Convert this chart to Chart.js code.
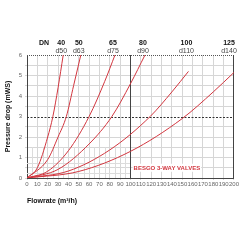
<!DOCTYPE html>
<html><head><meta charset="utf-8">
<script src="https://cdn.jsdelivr.net/npm/chart.js@4/dist/chart.umd.min.js"></script>
<style>html,body{margin:0;padding:0;background:#fff}#w{width:240px;height:240px}</style>
</head><body><div id="w"><canvas id="c" width="240" height="240"></canvas></div>
<script>
const dnLabels = ['40','50','65','80','100','125'];
const dLabels = ['d50','d63','d75','d90','d110','d140'];
const dn40 = [[0,0],[10,0.5],[20,2.0],[25,3.0],[30,4.4],[35,6.0]];
const dn50 = [[0,0],[20,0.9],[30,2.0],[38,3.0],[45,4.5],[52,6.0]];
const dn65 = [[0,0],[20,0.33],[40,1.33],[60,3.0],[75,4.7],[85,6.0]];
const dn80 = [[0,0],[30,0.42],[60,1.66],[82,3.0],[100,4.6],[114,6.0]];
const dn100 = [[0,0],[40,0.34],[80,1.37],[119,3.0],[140,4.2],[156,5.2]];
const dn125 = [[0,0],[50,0.32],[100,1.3],[150,2.9],[180,4.2],[200,5.15]];
const curves = [dn40, dn50, dn65, dn80, dn100, dn125];
const xTicksMax = 200, yTicksMax = 6;
const titleY = 'Pressure drop (mWS)';
const titleX = 'Flowrate (m³/h)';
const brand = 'BESGO 3-WAY VALVES';

const RED = '#d2363f';
const NARROW = '"Liberation Sans Narrow", "Liberation Sans", Arial, sans-serif';
const SANS = '"Liberation Sans", Arial, sans-serif';
const overlay = {
  id:'overlay',
  beforeDatasetsDraw(chart){
    const {ctx, chartArea:a, scales:{x,y}} = chart;
    ctx.save();
    ctx.strokeStyle = '#dcdcdc'; ctx.lineWidth = 1;
    for (let v=0.25; v<1; v+=0.25){ if (v===0.5) continue;
      const py = Math.round(y.getPixelForValue(v))+0.5;
      ctx.beginPath(); ctx.moveTo(a.left, py); ctx.lineTo(x.getPixelForValue(100), py); ctx.stroke(); }
    for (let v=5; v<100; v+=10){
      const px = Math.round(x.getPixelForValue(v))+0.5;
      ctx.beginPath(); ctx.moveTo(px, a.bottom); ctx.lineTo(px, y.getPixelForValue(1.5)); ctx.stroke(); }
    ctx.strokeStyle = '#333'; ctx.setLineDash([2,1.5]);
    let py = Math.round(y.getPixelForValue(3))+0.5;
    ctx.beginPath(); ctx.moveTo(a.left, py); ctx.lineTo(a.right, py); ctx.stroke();
    ctx.setLineDash([1,1]); ctx.strokeStyle='#555';
    py = Math.round(y.getPixelForValue(6))+0.5;
    ctx.beginPath(); ctx.moveTo(a.left, py); ctx.lineTo(a.right, py); ctx.stroke();
    ctx.setLineDash([]);
    ctx.strokeStyle='#444';
    let px = Math.round(x.getPixelForValue(100))+0.5;
    ctx.beginPath(); ctx.moveTo(px, a.top); ctx.lineTo(px, a.bottom); ctx.stroke();
    px = Math.round(x.getPixelForValue(200))-0.5;
    ctx.beginPath(); ctx.moveTo(px, a.top); ctx.lineTo(px, a.bottom); ctx.stroke();
    ctx.restore();
  },
  afterDraw(chart){
    const {ctx, chartArea:a, scales:{x,y}} = chart;
    ctx.save();
    ctx.fillStyle = '#111'; ctx.textAlign='center'; ctx.textBaseline='alphabetic';
    ctx.font = 'bold 7px ' + SANS;
    ctx.fillText('DN', 44, 45);
    curves.forEach((c,i)=>{
      const last = c[c.length-1];
      let px = Math.min(x.getPixelForValue(last[0]) - 2, a.right - 5);
      ctx.fillStyle='#111'; ctx.font = 'bold 7px ' + SANS;
      ctx.fillText(dnLabels[i], px, 45);
      ctx.fillStyle='#444'; ctx.font = '7px ' + SANS;
      ctx.fillText(dLabels[i], px, 53);
    });
    ctx.font = 'bold 6px ' + SANS;
    const bx = x.getPixelForValue(103), byv = y.getPixelForValue(0.5);
    const w = ctx.measureText(brand).width;
    ctx.fillStyle='#fff'; ctx.fillRect(bx-1, byv-4, w+2, 8);
    ctx.fillStyle = RED; ctx.textAlign='left'; ctx.textBaseline='middle';
    ctx.fillText(brand, bx, byv+0.5);
    ctx.restore();
  }
};

new Chart(document.getElementById('c'), {
  type:'line',
  data:{ datasets: curves.map((c,i)=>({
    label:'DN'+dnLabels[i],
    data:c.map(p=>({x:p[0], y:p[1]})),
    borderColor:RED, borderWidth:1, pointRadius:0, fill:false,
    cubicInterpolationMode:'monotone'
  }))},
  options:{
    responsive:false, animation:false, devicePixelRatio:1,
    layout:{padding:{top:55, right:6, left:0, bottom:35}},
    plugins:{legend:{display:false}, tooltip:{enabled:false}},
    scales:{
      x:{type:'linear', min:0, max:xTicksMax,
        ticks:{stepSize:10, autoSkip:false, maxRotation:0, color:'#666', padding:1,
          font:{size:6, family:NARROW}},
        grid:{color:'#d6d6d6', drawTicks:true, tickLength:2},
        border:{color:'#444'},
        title:{display:true, text:titleX, align:'start', color:'#111', padding:{top:0, bottom:0},
          font:{size:7, weight:'bold', family:SANS}},
        afterFit(s){ s.height = 27; }
      },
      y:{type:'linear', min:0, max:yTicksMax,
        ticks:{stepSize:0.5, autoSkip:false, color:'#666', padding:3,
          callback:v=> Number.isInteger(v)? String(v):'',
          font:{size:6, family:NARROW}},
        grid:{color:ctx=> (ctx.tick && (ctx.tick.value===3||ctx.tick.value===6))?'rgba(0,0,0,0)':'#d6d6d6', tickLength:2},
        border:{color:'#444'},
        title:{display:true, text:titleY, color:'#111', padding:{bottom:4},
          font:{size:7, weight:'bold', family:SANS}},
        afterFit(s){ s.width = 27; }
      }
    }
  },
  plugins:[overlay]
});
</script></body></html>
